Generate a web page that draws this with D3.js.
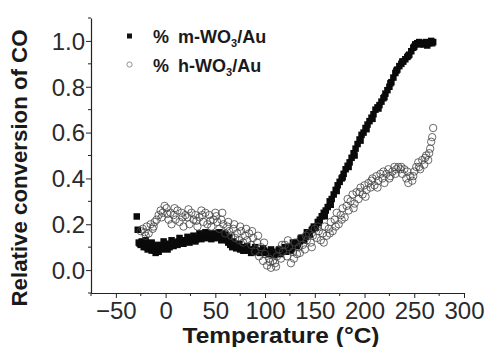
<!DOCTYPE html>
<html><head><meta charset="utf-8">
<script src="https://cdn.jsdelivr.net/npm/d3@7"></script>
<style>body{margin:0;background:#fff}svg{display:block;font-family:"Liberation Sans",Arial,sans-serif}</style>
</head><body><svg id="c" width="490" height="347"></svg>
<script>
const xTicks = [-50, 0, 50, 100, 150, 200, 250, 300];
const yTicks = [0.0, 0.2, 0.4, 0.6, 0.8, 1.0];
const xTitle = "Temperature (°C)";
const yTitle = "Relative conversion of CO";
const seriesNames = ["m-WO", "h-WO"];

// % m-WO3/Au : [temperature, relative conversion]
const mSeries = [
[-29,.234],[-28,.176],[-27,.12],[-26,.115],[-25,.11],[-24,.125],[-23,.12],[-22,.10],[-21,.105],[-20,.115],[-19,.10],[-18,.09],[-17,.11],[-16,.10],[-15,.095],[-14,.085],[-13,.09],[-12,.10],[-11,.085],[-10,.075],[-9,.09],[-8,.08],[-7,.08],[-6,.095],[-5,.10],[-4,.09],[-3,.095],[-2,.105],[-1,.11],[1,.10],[2,.09],[3,.115],[4,.10],[5,.11],[7,.12],[8,.105],[9,.115],[11,.12],[12,.11],[13,.125],[15,.12],[17,.13],[18,.115],[19,.125],[21,.13],[23,.13],[24,.12],[25,.135],[27,.13],[29,.14],[30,.125],[31,.135],[33,.14],[35,.15],[36,.135],[37,.145],[39,.14],[41,.15],[42,.16],[43,.14],[45,.15],[46,.135],[47,.145],[49,.14],[50,.155],[51,.15],[53,.14],[55,.145],[56,.13],[57,.16],[59,.14],[61,.145],[62,.13],[63,.12],[65,.11],[66,.12],[67,.10],[69,.11],[71,.095],[72,.105],[73,.10],[75,.09],[77,.10],[78,.085],[79,.085],[81,.09],[83,.085],[85,.09],[86,.075],[87,.08],[89,.09],[91,.085],[93,.08],[95,.075],[96,.085],[97,.08],[99,.085],[101,.075],[103,.08],[104,.07],[105,.07],[107,.075],[109,.065],[111,.07],[112,.08],[113,.075],[115,.07],[117,.08],[119,.085],[121,.08],[123,.09],[125,.10],[126,.085],[127,.095],[129,.11],[131,.12],[132,.105],[133,.115],[135,.125],[137,.14],[139,.13],[141,.145],[143,.16],[145,.155],[147,.175],[149,.19],[151,.185],[153,.21],[155,.22],[157,.235],[159,.25],[161,.26],[163,.275],[165,.30],[167,.31],[169,.33],[171,.35],[173,.37],[175,.385],[177,.40],[179,.42],[181,.44],[183,.455],[185,.47],[187,.49],[189,.51],[191,.53],[193,.55],[195,.57],[197,.59],[199,.60],[201,.62],[203,.635],[205,.65],[207,.665],[209,.68],[211,.70],[213,.71],[215,.72],[217,.735],[219,.75],[221,.77],[223,.785],[225,.80],[227,.82],[229,.84],[231,.86],[233,.875],[235,.89],[237,.90],[239,.91],[241,.92],[243,.93],[245,.94],[247,.955],[249,.97],[251,.985],[253,.99],[255,.995],[257,.99],[259,.985],[261,.99],[263,.98],[265,.99],[267,1.0],[269,.995],
[-20,.13],[-14,.12],[-8,.11],[-2,.125],[6,.13],[14,.14],[22,.145],[28,.15],[34,.16],[40,.165],[48,.16],[54,.165],[60,.155],[64,.145],[68,.125],[74,.115],[82,.105],[90,.10],[98,.095],[106,.09],[114,.09],[120,.10],[128,.12],[136,.14],[142,.165],[148,.18],[154,.205],[160,.235],[166,.285],[172,.345],[178,.405],[184,.45],[190,.50],[196,.565],[202,.615],[208,.66],[214,.705],[220,.755],[226,.815],[232,.87],[238,.91],[244,.935],[250,.975],[256,.985],[262,.995],[268,.99]
];

// % h-WO3/Au : [temperature, relative conversion]
const hSeries = [
[-25,.17],[-23,.18],[-21,.165],[-19,.19],[-17,.16],[-15,.20],[-13,.18],[-11,.21],[-9,.22],[-7,.24],[-5,.26],[-3,.25],[-1,.28],[1,.27],[3,.22],[5,.25],[6,.20],[8,.24],[10,.22],[12,.26],[14,.21],[16,.25],[18,.19],[20,.24],[22,.23],[24,.20],[26,.25],[28,.22],[30,.24],[32,.19],[34,.23],[36,.26],[38,.21],[40,.25],[42,.20],[44,.24],[46,.19],[48,.22],[50,.25],[52,.21],[54,.18],[56,.22],[58,.20],[60,.16],[62,.19],[64,.17],[66,.15],[68,.18],[70,.14],[72,.16],[74,.13],[76,.17],[78,.12],[80,.15],[82,.13],[84,.16],[86,.11],[88,.14],[90,.08],[92,.12],[94,.06],[96,.10],[98,.04],[100,.07],[102,.02],[104,.05],[106,.01],[108,.04],[110,.03],[112,.06],[114,.09],[116,.05],[118,.08],[120,.11],[122,.06],[124,.10],[126,.03],[128,.08],[130,.12],[132,.07],[134,.10],[136,.14],[138,.11],[140,.09],[142,.13],[144,.16],[146,.12],[148,.15],[150,.18],[152,.14],[154,.17],[156,.13],[158,.16],[160,.19],[162,.15],[164,.18],[166,.21],[168,.17],[170,.22],[172,.25],[174,.20],[176,.24],[178,.27],[180,.23],[182,.28],[184,.26],[186,.30],[188,.33],[190,.29],[192,.34],[194,.31],[196,.36],[198,.33],[200,.37],[202,.35],[204,.38],[206,.36],[208,.40],[210,.37],[212,.41],[214,.39],[216,.42],[218,.40],[220,.38],[222,.42],[224,.44],[226,.41],[228,.43],[230,.45],[232,.44],[234,.45],[236,.44],[238,.42],[240,.44],[242,.40],[244,.38],[246,.41],[248,.39],[250,.43],[252,.45],[254,.47],[256,.44],[258,.48],[260,.46],[262,.50],[264,.48],[266,.53],[267,.56],[268,.58],[269,.62],
[-20,.15],[-12,.19],[-4,.23],[2,.245],[9,.27],[17,.23],[23,.265],[31,.215],[37,.24],[45,.215],[51,.235],[57,.25],[63,.21],[69,.20],[75,.19],[81,.18],[87,.17],[93,.15],[99,.12],[105,.035],[111,.015],[117,.11],[123,.13],[129,.05],[135,.075],[141,.15],[147,.10],[153,.19],[159,.12],[165,.16],[171,.19],[177,.22],[183,.31],[189,.27],[195,.34],[201,.32],[207,.39],[213,.36],[219,.43],[225,.40],[231,.42],[237,.45],[243,.43],[249,.41],[255,.45],[261,.49],[265,.51]
];

const svg = d3.select("#c");
const x = d3.scaleLinear().domain([-75, 300]).range([91, 464]);
const y = d3.scaleLinear().domain([-0.1, 1.1]).range([293, 18]);

// axes
const xMinor = d3.range(-75, 301, 25).filter(v => v % 50 !== 0);
const yMinor = [-0.1, 0.1, 0.3, 0.5, 0.7, 0.9, 1.1];

const gx = svg.append("g").attr("transform", "translate(0,293)");
gx.call(d3.axisBottom(x).tickValues(xTicks).tickSize(5).tickSizeOuter(0).tickPadding(3).tickFormat(d3.format("d")));
gx.selectAll("g.minor").data(xMinor).join("line").attr("x1", d => x(d)).attr("x2", d => x(d)).attr("y1", 0).attr("y2", 3).attr("stroke", "#222");
const gy = svg.append("g").attr("transform", "translate(91,0)");
gy.call(d3.axisLeft(y).tickValues(yTicks).tickSize(5).tickSizeOuter(0).tickPadding(1).tickFormat(d3.format(".1f")));
gy.selectAll("g.minor").data(yMinor).join("line").attr("y1", d => y(d)).attr("y2", d => y(d)).attr("x1", 0).attr("x2", -3).attr("stroke", "#222");

svg.selectAll(".domain").attr("stroke", "#222").attr("stroke-width", 1.2);
svg.selectAll(".tick line").attr("stroke", "#222");
svg.selectAll(".tick text").attr("font-size", 24).attr("fill", "#2a2a2a").attr("font-family", '"Liberation Sans",Arial,sans-serif');
gx.selectAll(".tick text").attr("dy", null).attr("y", 26);
gy.selectAll(".tick text").attr("dy", "0.35em");

// titles
svg.append("text").attr("x", 281).attr("y", 343).attr("text-anchor", "middle")
  .attr("font-weight", "bold").attr("font-size", 22).attr("fill", "#1a1a1a")
  .attr("textLength", 197).attr("lengthAdjust", "spacingAndGlyphs").text(xTitle);
svg.append("text").attr("transform", "translate(27,168) rotate(-90)").attr("text-anchor", "middle")
  .attr("font-weight", "bold").attr("font-size", 22).attr("fill", "#1a1a1a")
  .attr("textLength", 277).attr("lengthAdjust", "spacingAndGlyphs").text(yTitle);

// data
const sq = 6.5;
svg.append("g").selectAll("rect").data(mSeries).join("rect")
  .attr("x", d => x(d[0]) - sq / 2).attr("y", d => y(d[1]) - sq / 2)
  .attr("width", sq).attr("height", sq).attr("fill", "#0a0a0a");
svg.append("g").selectAll("circle").data(hSeries).join("circle")
  .attr("cx", d => x(d[0])).attr("cy", d => y(d[1])).attr("r", 3.7)
  .attr("fill", "none").attr("stroke", "#444").attr("stroke-width", 0.8);

// legend
const leg = svg.append("g");
leg.append("rect").attr("x", 127).attr("y", 33.5).attr("width", 5).attr("height", 5).attr("fill", "#111");
leg.append("circle").attr("cx", 129.5).attr("cy", 64.5).attr("r", 2.6).attr("fill", "none").attr("stroke", "#777").attr("stroke-width", 0.8);
[[43, seriesNames[0]], [71.5, seriesNames[1]]].forEach(([by, nm]) => {
  const t = leg.append("text").attr("x", 153).attr("y", by).attr("font-size", 18).attr("font-weight", "bold").attr("fill", "#1a1a1a");
  t.append("tspan").text("%");
  t.append("tspan").attr("dx", 9).text(nm);
  t.append("tspan").attr("font-size", 11).attr("dy", 4).text("3");
  t.append("tspan").attr("dy", -4).text("/Au");
});
</script></body></html>
